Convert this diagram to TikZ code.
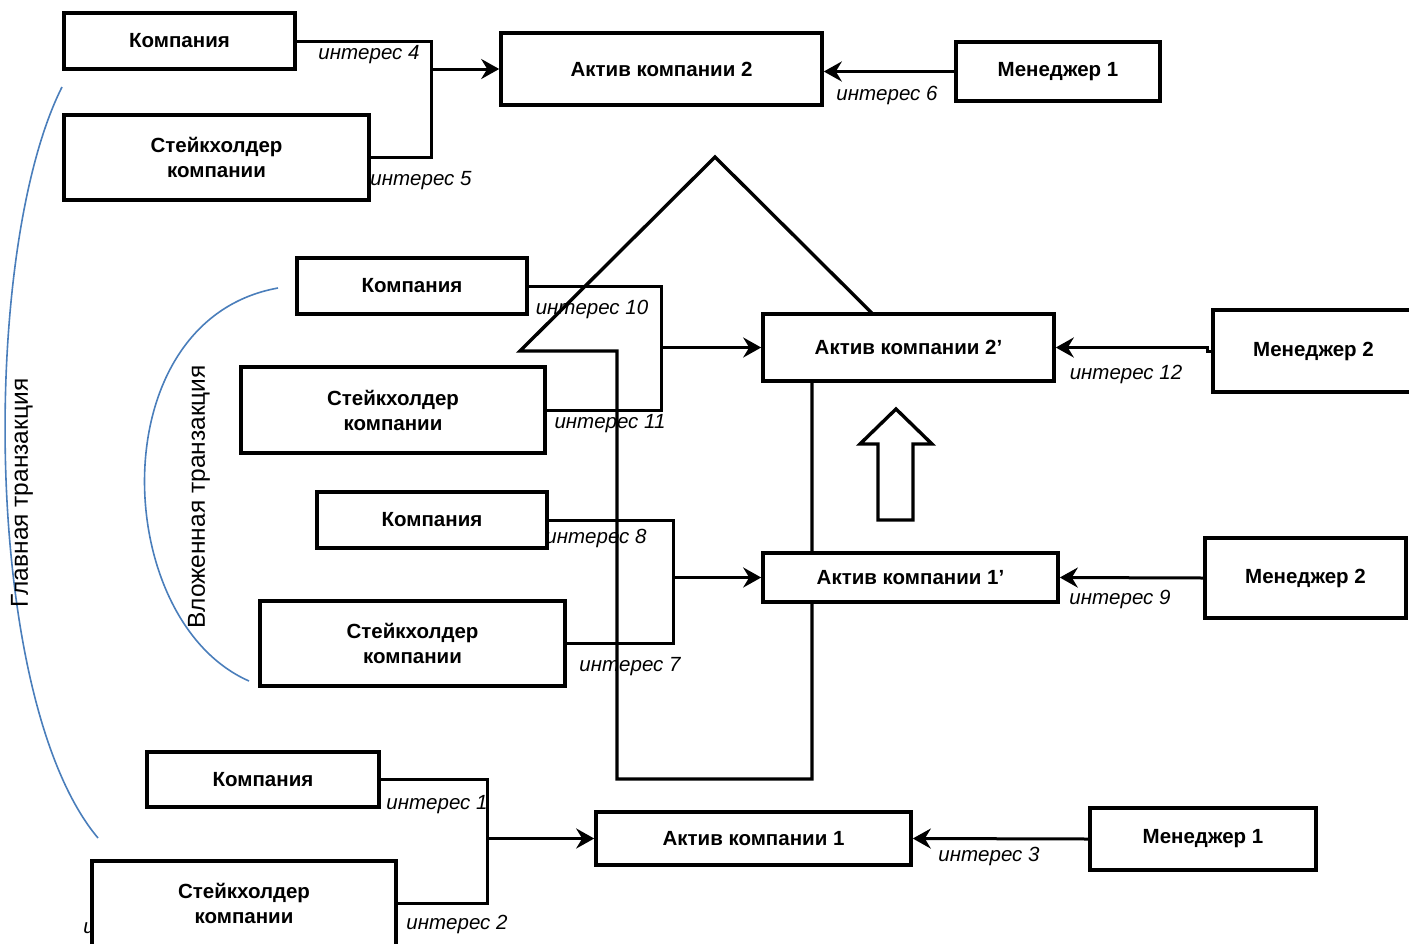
\documentclass[tikz,border=0pt]{standalone}
\usepackage{fontspec}
\setsansfont{Liberation Sans}
\usetikzlibrary{arrows.meta}
\definecolor{cblue}{HTML}{4A7EBB}
\tikzset{
  every picture/.style={font=\sffamily, line width=3pt},
  box/.style={draw=black, fill=white, line width=3.6pt, align=center, inner sep=0pt, font=\sffamily\bfseries\fontsize{20.5}{25}\selectfont},
  arrow/.style={-{Stealth[length=18pt, width=20pt, inset=6pt]}, line width=3pt},
  link/.style={line width=3pt},
  intr/.style={font=\sffamily\itshape\fontsize{20.5}{22}\selectfont, inner sep=0pt},
  band/.style={draw=cblue, line width=1.6pt},
  bandtext/.style={font=\sffamily\fontsize{24.5}{26}\selectfont, rotate=90, inner sep=0pt},
}

\begin{document}
\begin{tikzpicture}[x=1pt, y=-1pt]
  \useasboundingbox (0,0) rectangle (1409,943);
  \clip (0,0) rectangle (1409,943);
  % transaction brackets
  \draw[band] (62,87) .. controls (-20,250) and (-18,700) .. (98,838);
  \node[bandtext] (tmain) at (22,493) {Главная транзакция};
  \draw[band] (278,288) .. controls (100,320) and (110,620) .. (249,681);
  \node[bandtext] (tnest) at (199,497) {Вложенная транзакция};
  % interest labels
  \node[intr] (i4) at (369,55) {интерес 4};
  \node[intr] (i5) at (421,181) {интерес 5};
  \node[intr] (i6) at (887,95) {интерес 6};
  \node[intr] (i10) at (592,309) {интерес 10};
  \node[intr] (i11) at (610,424) {интерес 11};
  \node[intr] (i8) at (596,538) {интерес 8};
  \node[intr] (i7) at (630,667) {интерес 7};
  \node[intr] (i12) at (1126,374) {интерес 12};
  \node[intr] (i9) at (1120,599) {интерес 9};
  \node[intr] (i1) at (437,805) {интерес 1};
  \node[intr] (i2) at (457,924) {интерес 2};
  \node[intr] (i3) at (989,856) {интерес 3};
  \node[intr] (istray) at (89,928) {и};
  % big arrow and small arrow
  \draw[line width=3.4pt] (715,157) -- (910,351) -- (812,351) -- (812,779) -- (617,779) -- (617,351) -- (520,351) -- cycle;
  \draw[line width=3.4pt] (896,409) -- (932,444) -- (913,444) -- (913,520) -- (878,520) -- (878,444) -- (860,444) -- cycle;
  % boxes
  \node[box, minimum width=231pt, minimum height=56pt] (kA) at (179.5,41) {Компания};
  \node[box, minimum width=305pt, minimum height=85pt] (sA) at (216.5,157.5) {Стейкхолдер\\компании};
  \node[box, minimum width=321pt, minimum height=72pt] (aA) at (661.5,69) {Актив компании 2};
  \node[box, minimum width=204pt, minimum height=59pt] (mA) at (1058,71.5) {Менеджер 1};
  \node[box, minimum width=230pt, minimum height=56pt] (kB) at (412,286) {Компания};
  \node[box, minimum width=304pt, minimum height=86pt] (sB) at (393,410) {Стейкхолдер\\компании};
  \node[box, minimum width=230pt, minimum height=56pt] (kC) at (432,520) {Компания};
  \node[box, minimum width=305pt, minimum height=85pt] (sC) at (412.5,643.5) {Стейкхолдер\\компании};
  \node[box, minimum width=291pt, minimum height=67pt] (aB) at (908.5,347.5) {Актив компании 2’};
  \node[box, minimum width=201pt, minimum height=82pt] (mB) at (1313.5,351) {Менеджер 2};
  \node[box, minimum width=295pt, minimum height=49pt] (aC) at (910.5,577.5) {Актив компании 1’};
  \node[box, minimum width=201pt, minimum height=80pt] (mC) at (1305.5,578) {Менеджер 2};
  \node[box, minimum width=232pt, minimum height=55pt] (kD) at (263,779.5) {Компания};
  \node[box, minimum width=304pt, minimum height=85pt] (sD) at (244,903.5) {Стейкхолдер\\компании};
  \node[box, minimum width=315pt, minimum height=53pt] (aD) at (753.5,838.5) {Актив компании 1};
  \node[box, minimum width=226pt, minimum height=62pt] (mD) at (1203,839) {Менеджер 1};
  % junctions
  \coordinate (jA) at (431,69);
  \coordinate (jB) at (661,347.5);
  \coordinate (jC) at (673,577.5);
  \coordinate (jD) at (487,838.5);
  % connectors
  \draw[link] (kA.east) -| (jA);
  \draw[link] (sA.east) -| (jA);
  \draw[arrow] (jA) -- (aA.west);
  \draw[arrow] (mA.west) -- (mA.west -| aA.east);
  \draw[link] (kB.east) -| (jB);
  \draw[link] (sB.east) -| (jB);
  \draw[arrow] (jB) -- (aB.west);
  \draw[link] (kC.east) -| (jC);
  \draw[link] (sC.east) -| (jC);
  \draw[arrow] (jC) -- (aC.west);
  \draw[arrow] (mB.west) -- ++(-4,0) |- (aB.east);
  \draw[arrow] (mC.west) -- (aC.east);
  \draw[link] (kD.east) -| (jD);
  \draw[link] (sD.east) -| (jD);
  \draw[arrow] (jD) -- (aD.west);
  \draw[arrow] (mD.west) -- (aD.east);
\end{tikzpicture}
\end{document}
